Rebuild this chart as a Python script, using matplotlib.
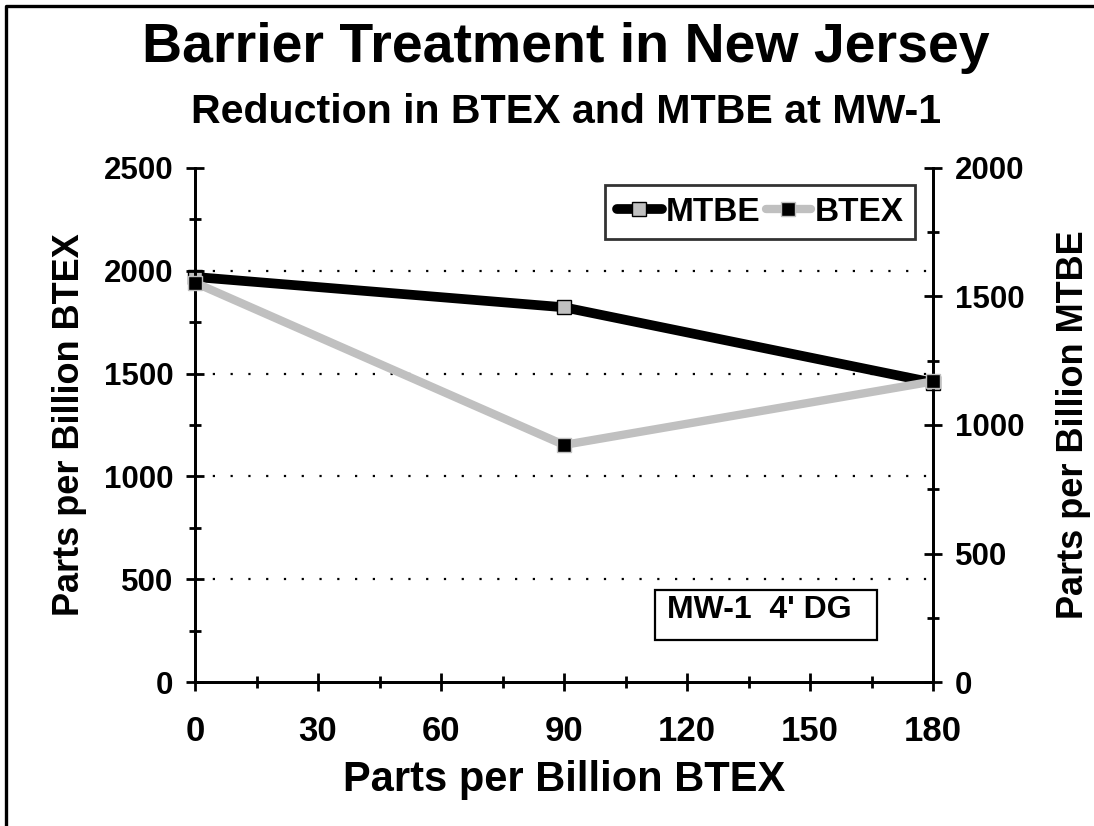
import matplotlib
matplotlib.use("Agg")
import matplotlib.pyplot as plt
from matplotlib.lines import Line2D
from matplotlib.patches import Rectangle
from matplotlib.ticker import MultipleLocator

plt.rcParams['font.family'] = ['Liberation Sans', 'DejaVu Sans']
plt.rcParams['font.weight'] = 'bold'

days = [0, 90, 180]
mtbe = [1576, 1458, 1165]   # right axis, ppb MTBE
btex = [1942, 1153, 1462]   # left axis, ppb BTEX

title = "Barrier Treatment in New Jersey"
subtitle = "Reduction in BTEX and MTBE at MW-1"
xlabel = "Parts per Billion BTEX"
ylabel_left = "Parts per Billion BTEX"
ylabel_right = "Parts per Billion MTBE"
note = "MW-1  4' DG"

fig = plt.figure(figsize=(10.94, 8.26), dpi=100)
ax = fig.add_axes([195/1094, 1-682/826, (933-195)/1094, (682-168)/826])
ax2 = ax.twinx()
ax.set_zorder(ax2.get_zorder() + 1)
ax.patch.set_visible(False)

GRAY = '#c0c0c0'
l_m, = ax2.plot(days, mtbe, color='black', lw=7, marker='s', markersize=10,
                markerfacecolor=GRAY, markeredgecolor='black', markeredgewidth=1,
                solid_capstyle='round', label='MTBE', clip_on=False)
l_b, = ax.plot(days, btex, color=GRAY, lw=6, marker='s', markersize=10,
               markerfacecolor='black', markeredgecolor=GRAY, markeredgewidth=1,
               solid_capstyle='round', label='BTEX', clip_on=False, zorder=3)

ax.set_xlim(0, 180)
ax.set_ylim(0, 2500)
ax2.set_ylim(0, 2000)
ax.xaxis.set_major_locator(MultipleLocator(30))
ax.xaxis.set_minor_locator(MultipleLocator(15))
ax.yaxis.set_major_locator(MultipleLocator(500))
ax.yaxis.set_minor_locator(MultipleLocator(250))
ax2.yaxis.set_major_locator(MultipleLocator(500))
ax2.yaxis.set_minor_locator(MultipleLocator(250))

for y in [500, 1000, 1500, 2000]:
    ax.axhline(y, color='black', lw=1.6, linestyle=(0, (1, 7)), zorder=1)

for a in (ax, ax2):
    for s in a.spines.values():
        s.set_linewidth(2)
    a.spines['top'].set_visible(False)
    a.tick_params(which='major', direction='inout', length=13, width=2, labelsize=22.5)
    a.tick_params(which='minor', direction='inout', length=9, width=2)
ax.tick_params(axis='x', pad=17, labelsize=25)
ax.tick_params(axis='y', pad=9)
ax2.tick_params(axis='y', pad=9)
for lab in ax.get_xticklabels() + ax.get_yticklabels() + ax2.get_yticklabels():
    lab.set_fontweight('bold')

ax.set_xlabel(xlabel, fontsize=30, fontweight='bold', labelpad=9)
ax.set_ylabel(ylabel_left, fontsize=26, fontweight='bold', labelpad=12)
ax2.set_ylabel(ylabel_right, fontsize=26, fontweight='bold', labelpad=23)

leg = ax.legend(handles=[l_m, l_b], loc='upper right', bbox_to_anchor=(0.976, 0.967),
                ncol=2, frameon=True, fancybox=False, borderaxespad=0,
                handlelength=1.35, columnspacing=0.15, handletextpad=0.12,
                borderpad=0.35, prop={'weight': 'bold', 'size': 24})
leg.get_frame().set_edgecolor('black')
leg.get_frame().set_linewidth(2)

ax.add_patch(Rectangle((0.623, 0.082), 0.301, 0.097, transform=ax.transAxes,
                       fill=True, facecolor='white', edgecolor='black', lw=1.6, zorder=5))
ax.text(0.64, 0.14, note, transform=ax.transAxes, fontsize=23, fontweight='bold',
        va='center', ha='left', zorder=6)

fig.text(0.517, 1-48/826, title, fontsize=40, fontweight='bold', ha='center', va='center')
fig.text(0.517, 1-112/826, subtitle, fontsize=29.6, fontweight='bold', ha='center', va='center')

fig.add_artist(Line2D([6/1094, 6/1094, 1.0], [0.0, 1-6/826, 1-6/826],
                      transform=fig.transFigure, color='black', lw=2.4))

fig.savefig('out.png', dpi=100)
